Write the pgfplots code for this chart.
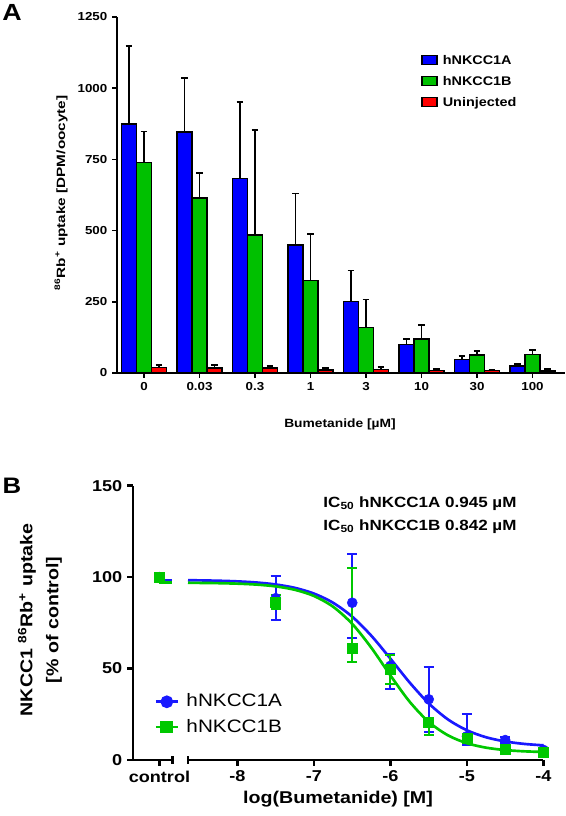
\documentclass[border=0pt]{standalone}
\usepackage{graphicx}
\usepackage{pgfplots}
\pgfplotsset{compat=1.18}
\usepackage{fontspec}
\setmainfont{Liberation Sans}[FakeStretch=1.15]
\definecolor{cblue}{RGB}{0,0,255}
\definecolor{cgreen}{RGB}{0,192,0}
\definecolor{cred}{RGB}{255,0,0}
\definecolor{bblue}{RGB}{25,25,255}
\definecolor{bgreen}{RGB}{0,200,0}
\begin{document}
\begin{tikzpicture}
\useasboundingbox (0,0) rectangle (424.5pt,612pt);
% ---------------- Panel A ----------------
\begin{axis}[
  at={(87.75pt,332.25pt)}, anchor=south west,
  scale only axis, width=336pt, height=267pt,
  xmin=-0.486, xmax=7.585, ymin=0, ymax=1250,
  axis x line*=bottom, axis y line*=left,
  axis line style={line width=1.3pt,-},
  tick align=outside, xtick pos=left, ytick pos=left,
  major tick length=3.75pt,
  tick style={line width=1.3pt,black},
  xtick={0,1,2,3,4,5,6,7}, xticklabels={0,0.03,0.3,1,3,10,30,100},
  ytick={0,250,500,750,1000,1250},
  scaled y ticks=false,
  /pgf/number format/assume math mode=true,
  /pgf/number format/1000 sep={},
  tick label style={font=\fontsize{8.7}{10}\selectfont\bfseries},
  ybar=0pt, bar width=11.25pt,
  legend cell align=left,
  legend image code/.code={\draw[#1,line width=1pt] (0pt,-3.375pt) rectangle (11.25pt,3.375pt);},
  legend style={at={(0.679,0.820)}, anchor=west, draw=none, fill=none, inner sep=0pt,
    row sep=8pt, nodes={inner xsep=3.75pt, inner ysep=0pt, text height=0.73em, text depth=0pt},
    font=\fontsize{9.4}{11}\selectfont\bfseries},
]
\addplot[fill=cblue, draw=black, line width=1.1pt, bar shift=-11.25pt, forget plot,
  error bars/.cd, y dir=plus, y explicit,
  error bar style={black,line width=1.4pt},
  error mark options={black,line width=1.4pt,mark size=2.6pt,rotate=90}]
  coordinates {(0,875) +- (0,273) (1,846) +- (0,190) (2,682) +- (0,268) (3,450) +- (0,180)
               (4,251) +- (0,109) (5,100) +- (0,18) (6,47) +- (0,13) (7,24) +- (0,9)};
\addplot[fill=cgreen, draw=black, line width=1.1pt, bar shift=0pt, forget plot,
  error bars/.cd, y dir=plus, y explicit,
  error bar style={black,line width=1.4pt},
  error mark options={black,line width=1.4pt,mark size=2.6pt,rotate=90}]
  coordinates {(0,740) +- (0,108) (1,615) +- (0,88) (2,485) +- (0,368) (3,325) +- (0,164)
               (4,160) +- (0,98) (5,119) +- (0,49) (6,63) +- (0,13) (7,65) +- (0,15)};
\addplot[fill=cred, draw=black, line width=1.1pt, bar shift=11.25pt, forget plot,
  error bars/.cd, y dir=plus, y explicit,
  error bar style={black,line width=1.4pt},
  error mark options={black,line width=1.4pt,mark size=2.6pt,rotate=90}]
  coordinates {(0,20) +- (0,8) (1,18) +- (0,11) (2,17) +- (0,7) (3,11) +- (0,8)
               (4,13) +- (0,7) (5,8) +- (0,7) (6,8) +- (0,3) (7,7) +- (0,7)};
\addlegendimage{fill=cblue,draw=black}
\addlegendentry{hNKCC1A}
\addlegendimage{fill=cgreen,draw=black}
\addlegendentry{hNKCC1B}
\addlegendimage{fill=cred,draw=black}
\addlegendentry{Uninjected}
\end{axis}
\node[rotate=90, font=\fontsize{9}{11}\selectfont\bfseries] at (45.75pt,467.25pt)
  {\scalebox{1.11}[1]{\textsuperscript{86}Rb\textsuperscript{+} uptake [DPM/oocyte]}};
\node[font=\fontsize{9}{11}\selectfont\bfseries] at (255pt,294pt) {Bumetanide [µM]};
\node[font=\fontsize{17.5}{20}\selectfont\bfseries] at (9pt,602.8pt) {A};
% ---------------- Panel B ----------------
\begin{axis}[
  at={(99.75pt,42pt)}, anchor=south west,
  scale only axis, width=29.6pt, height=205.7pt,
  xmin=0, xmax=1, ymin=0, ymax=150, clip=false,
  axis x line*=bottom, axis y line*=left,
  axis line style={line width=2pt,-},
  tick align=outside, xtick pos=left, ytick pos=left,
  major tick length=4.5pt,
  tick style={line width=2pt,black},
  xtick={0.67}, xticklabels={control},
  extra x ticks={1}, extra x tick labels={},
  extra x tick style={tick align=center, major tick length=6pt},
  ytick={0,50,100,150},
  /pgf/number format/assume math mode=true,
  tick label style={font=\fontsize{11.8}{13}\selectfont\bfseries},
]
\addplot[bblue, line width=2pt, no marks] coordinates {(0.67,98.4) (1,98.4)};
\addplot[bblue, only marks, mark=*, mark size=3.75pt] coordinates {(0.67,100)};
\addplot[bgreen, line width=2pt, no marks] coordinates {(0.67,97.0) (1,97.0)};
\addplot[bgreen, only marks, mark=square*, mark size=3.75pt] coordinates {(0.67,100)};
\end{axis}
\begin{axis}[
  at={(141pt,42pt)}, anchor=south west,
  scale only axis, width=266.6pt, height=205.7pt,
  xmin=-8.647, xmax=-4, ymin=0, ymax=150, clip=false,
  axis x line*=bottom, axis y line=none,
  axis line style={line width=2pt,-},
  tick align=outside, xtick pos=left,
  major tick length=4.5pt,
  tick style={line width=2pt,black},
  xtick={-8,-7,-6,-5,-4}, xticklabels={-8,-7,-6,-5,-4},
  extra x ticks={-8.647}, extra x tick labels={},
  extra x tick style={tick align=center, major tick length=6pt},
  ytick=\empty,
  tick label style={font=\fontsize{11.8}{13}\selectfont\bfseries},
  legend cell align=left,
  legend image code/.code={\draw[mark repeat=2,mark phase=2,#1] plot coordinates {(0pt,0pt) (8.25pt,0pt) (16.5pt,0pt)};},
  legend style={at={(-0.095,0.166)}, anchor=west, draw=none, fill=none, inner sep=0pt,
    row sep=11.5pt, nodes={inner xsep=5.5pt, inner ysep=0pt, text height=0.73em, text depth=0pt},
    font=\fontsize{13.5}{15}\selectfont},
]
\addplot[bblue, line width=2pt, smooth, no marks, forget plot] coordinates {
 (-8.647,98.32) (-8.5,98.24) (-8.25,98.04) (-8.0,97.69) (-7.75,97.07) (-7.5,95.99)
 (-7.25,94.13) (-7.0,91.01) (-6.75,85.98) (-6.5,78.38) (-6.25,67.94) (-6.0,55.38)
 (-5.75,42.40) (-5.5,30.96) (-5.25,22.22) (-5.0,16.23) (-4.75,12.43) (-4.5,10.14)
 (-4.25,8.79) (-4.0,8.02)};
\addplot[bblue, only marks, mark=*, mark size=3.75pt, forget plot,
  error bars/.cd, y dir=both, y explicit,
  error bar style={bblue,line width=1.5pt},
  error mark options={bblue,line width=1.5pt,mark size=3.75pt,rotate=90}]
  coordinates {(-7.5,88.5) +- (0,12) (-6.5,86) += (0,26.6) -= (0,19.5)
               (-6,51.5) += (0,6.2) -= (0,12.7) (-5.5,33.2) +- (0,17.8)
               (-5,13) += (0,12.1) -= (0,5) (-4.5,10.9) +- (0,1.5) (-4,5.5) +- (0,1)};
\addplot[bgreen, line width=2pt, smooth, no marks, forget plot] coordinates {
 (-8.647,96.90) (-8.5,96.85) (-8.25,96.71) (-8.0,96.44) (-7.75,95.93) (-7.5,94.94)
 (-7.25,93.08) (-7.0,89.70) (-6.75,83.82) (-6.5,74.44) (-6.25,61.38) (-6.0,46.20)
 (-5.75,31.90) (-5.5,20.84) (-5.25,13.52) (-5.0,9.17) (-4.75,6.74) (-4.5,5.43)
 (-4.25,4.74) (-4.0,4.39)};
\addplot[bgreen, only marks, mark=square*, mark size=3.75pt, forget plot,
  error bars/.cd, y dir=both, y explicit,
  error bar style={bgreen,line width=1.5pt},
  error mark options={bgreen,line width=1.5pt,mark size=3.75pt,rotate=90}]
  coordinates {(-7.5,86.5) +- (0,4) (-6.5,61) += (0,43.8) -= (0,7.6)
               (-6,49.6) +- (0,8) (-5.5,20.9) += (0,2) -= (0,7.2)
               (-5,11.9) +- (0,2.5) (-4.5,6.0) +- (0,1.5) (-4,4.4) +- (0,1.5)};
\addlegendimage{bblue, line width=2pt, mark=*, mark size=3.75pt}
\addlegendentry{hNKCC1A}
\addlegendimage{bgreen, line width=2pt, mark=square*, mark size=3.75pt}
\addlegendentry{hNKCC1B}
\end{axis}
\node[rotate=90, align=center, font=\fontsize{12.8}{19.5}\selectfont\bfseries] at (30pt,147pt)
  {NKCC1 \textsuperscript{86}Rb\textsuperscript{+} uptake\\{[}\% of control]};
\node[font=\fontsize{12.8}{15}\selectfont\bfseries] at (253.5pt,12.75pt) {log(Bumetanide) [M]};
\node[align=center, font=\fontsize{11.1}{17.5}\selectfont\bfseries] at (315pt,225.75pt)
  {IC\textsubscript{50} hNKCC1A 0.945 µM\\IC\textsubscript{50} hNKCC1B 0.842 µM};
\node[font=\fontsize{16.8}{20}\selectfont\bfseries] at (9pt,248pt) {B};
\end{tikzpicture}
\end{document}
